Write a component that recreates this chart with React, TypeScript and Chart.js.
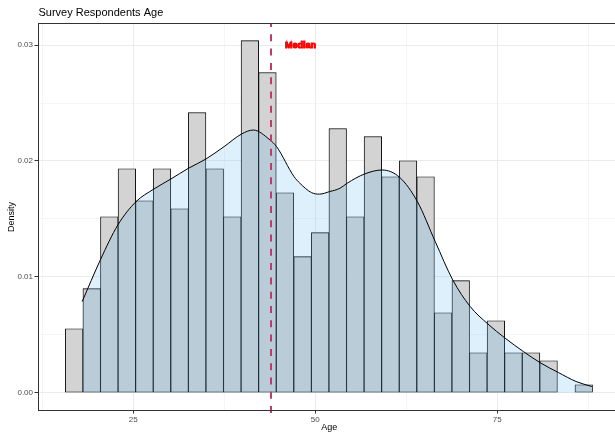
import React, { useEffect, useRef } from 'react';
import { Chart, registerables } from 'chart.js';

Chart.register(...registerables);

// Histogram bins (bin midpoints, years) and densities
const binCenters = [
  16.897, 19.31, 21.724, 24.138, 26.552, 28.966, 31.379, 33.793, 36.207, 38.621,
  41.034, 43.448, 45.862, 48.276, 50.69, 53.103, 55.517, 57.931, 60.345, 62.759,
  65.172, 67.586, 70.0, 72.414, 74.828, 77.241, 79.655, 82.069, 84.483, 86.897,
];
const binDensity = [
  0.00552, 0.00898, 0.01519, 0.01933, 0.01657, 0.01933, 0.01588, 0.02417, 0.01933, 0.01519,
  0.03038, 0.02762, 0.01726, 0.01174, 0.01381, 0.02279, 0.01519, 0.0221, 0.01864, 0.02002,
  0.01864, 0.0069, 0.00967, 0.00345, 0.00621, 0.00345, 0.00345, 0.00276, 0.0, 0.00069,
];

// Kernel density curve
const densityAge = [
  18.0, 20.5, 22.9, 25.4, 27.8, 30.2, 32.6, 35.0, 37.5, 39.9, 41.5, 43.8, 44.7, 47.1,
  47.9, 49.5, 50.6, 52.0, 53.4, 54.4, 56.8, 59.2, 61.6, 64.05, 66.5, 68.9, 71.3, 73.7,
  76.1, 78.6, 81.0, 83.4, 85.85, 88.0,
];
const densityValue = [
  0.00787, 0.01147, 0.01448, 0.01649, 0.01756, 0.01845, 0.01937, 0.02017, 0.02124, 0.02233,
  0.02267, 0.02181, 0.02124, 0.01865, 0.01808, 0.01727, 0.01714, 0.01736, 0.01764, 0.01808,
  0.01888, 0.01922, 0.01859, 0.01649, 0.01304, 0.00974, 0.00744, 0.00595, 0.00471, 0.00356,
  0.00256, 0.00175, 0.00097, 0.00054,
];

const yMajorTicks = [0, 0.01, 0.02, 0.03];
const xMajorTicks = [25, 50, 75];

const medianAge = 44;
const medianLabel = 'Median';
const medianLabelPos = { x: 48, y: 0.03 };

const titleText = 'Survey Respondents Age';
const xTitle = 'Age';
const yTitle = 'Density';

const FONT = '"Liberation Sans", Arial, Helvetica, sans-serif';

const isMajor = (v: number, majors: number[]) => majors.some((m) => Math.abs(m - v) < 1e-9);

const overlayPlugin = {
  id: 'overlay',
  afterDatasetsDraw(chart: any) {
    const { ctx, chartArea, scales } = chart;
    const x = scales.x;
    const y = scales.y;
    ctx.save();
    // Median dashed line
    const px = Math.round(x.getPixelForValue(medianAge));
    ctx.beginPath();
    ctx.rect(0, chartArea.top, chart.width, chartArea.bottom - chartArea.top + 3);
    ctx.clip();
    ctx.strokeStyle = '#BC3C6C';
    ctx.lineWidth = 2;
    ctx.setLineDash([7, 7.3]);
    ctx.lineDashOffset = 3.5;
    ctx.beginPath();
    ctx.moveTo(px, chartArea.top);
    ctx.lineTo(px, chartArea.bottom + 3);
    ctx.stroke();
    ctx.restore();

    // Median label
    ctx.save();
    ctx.font = `bold 9px ${FONT}`;
    ctx.fillStyle = '#ff0000';
    ctx.strokeStyle = '#ff0000';
    ctx.lineWidth = 1;
    ctx.textAlign = 'center';
    ctx.textBaseline = 'middle';
    const lx = x.getPixelForValue(medianLabelPos.x);
    const ly = y.getPixelForValue(medianLabelPos.y);
    ctx.strokeText(medianLabel, lx, ly + 0.5);
    ctx.fillText(medianLabel, lx, ly + 0.5);
    ctx.restore();
  },
  afterDraw(chart: any) {
    const { ctx, chartArea } = chart;
    ctx.save();
    // panel border
    ctx.strokeStyle = '#333333';
    ctx.lineWidth = 1;
    ctx.strokeRect(chartArea.left, chartArea.top, chartArea.right - chartArea.left + 6, chartArea.bottom - chartArea.top);
    // title
    ctx.fillStyle = '#000000';
    ctx.font = `11px ${FONT}`;
    ctx.textAlign = 'left';
    ctx.textBaseline = 'middle';
    ctx.fillText(titleText, chartArea.left, 12.7);
    // x axis title
    ctx.font = `9px ${FONT}`;
    ctx.textAlign = 'center';
    ctx.fillText(xTitle, (chartArea.left + chartArea.right + 5) / 2, 427.5);
    // y axis title
    ctx.translate(11.3, (chartArea.top + chartArea.bottom) / 2);
    ctx.rotate(-Math.PI / 2);
    ctx.fillText(yTitle, 0, 0);
    ctx.restore();
  },
};

export default function App() {
  const canvasRef = useRef<HTMLCanvasElement | null>(null);

  useEffect(() => {
    if (!canvasRef.current) return;
    const chart = new Chart(canvasRef.current, {
      type: 'bar',
      data: {
        datasets: [
          {
            type: 'line',
            label: 'density',
            data: densityAge.map((a, i) => ({ x: a, y: densityValue[i] })),
            borderColor: '#000000',
            borderWidth: 1,
            pointRadius: 0,
            fill: 'origin',
            backgroundColor: 'rgba(86,180,233,0.2)',
            cubicInterpolationMode: 'monotone',
            order: 1,
          } as any,
          {
            type: 'bar',
            label: 'histogram',
            data: binCenters.map((c, i) => ({ x: c, y: binDensity[i] })),
            backgroundColor: '#d3d3d3',
            borderColor: '#000000',
            borderWidth: 0.9,
            borderSkipped: false,
            barPercentage: 1,
            categoryPercentage: 1,
            order: 2,
          } as any,
        ],
      },
      options: {
        responsive: false,
        animation: false,
        layout: { padding: { left: 0, top: 23.5, right: 0, bottom: 0 } },
        plugins: { legend: { display: false }, tooltip: { enabled: false }, title: { display: false } },
        scales: {
          x: {
            type: 'linear',
            min: 12.0,
            max: 91.19,
            offset: false,
            border: { display: false },
            grid: {
              offset: false,
              color: '#ebebeb',
              lineWidth: (c: any) => (isMajor(c.tick?.value, xMajorTicks) ? 1 : 0.5),
              tickLength: 3,
              tickColor: (c: any) => (isMajor(c.tick?.value, xMajorTicks) ? '#333333' : 'rgba(0,0,0,0)'),
              tickWidth: 1,
            },
            ticks: {
              stepSize: 12.5,
              includeBounds: false,
              autoSkip: false,
              maxRotation: 0,
              padding: 1,
              color: '#4d4d4d',
              font: { family: FONT, size: 8 },
              callback: (v: any) => (isMajor(Number(v), xMajorTicks) ? String(v) : ''),
            },
            afterFit: (s: any) => {
              s.height = 21.5;
            },
          } as any,
          y: {
            type: 'linear',
            min: -0.00153,
            max: 0.03186,
            border: { display: false },
            grid: {
              color: '#ebebeb',
              lineWidth: (c: any) => (isMajor(c.tick?.value, yMajorTicks) ? 1 : 0.5),
              tickLength: 4,
              tickColor: (c: any) => (isMajor(c.tick?.value, yMajorTicks) ? '#333333' : 'rgba(0,0,0,0)'),
              tickWidth: 1,
            },
            ticks: {
              stepSize: 0.005,
              includeBounds: false,
              autoSkip: false,
              padding: 1.5,
              color: '#4d4d4d',
              font: { family: FONT, size: 8 },
              callback: (v: any) => (isMajor(Number(v), yMajorTicks) ? Number(v).toFixed(2) : ''),
            },
            afterFit: (s: any) => {
              s.width = 38.5;
            },
          } as any,
        },
      },
      plugins: [overlayPlugin],
    });
    return () => chart.destroy();
  }, []);

  return (
    <div style={{ position: 'absolute', left: 0, top: 0, width: 615, height: 432, background: '#ffffff' }}>
      <canvas ref={canvasRef} width={615} height={432} style={{ display: 'block' }} />
    </div>
  );
}
